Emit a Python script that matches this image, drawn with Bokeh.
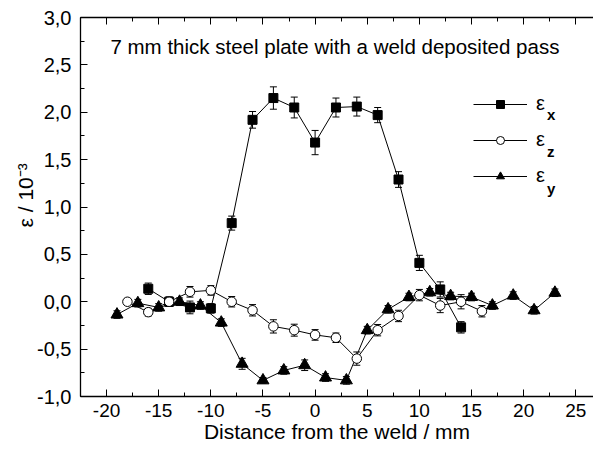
import math
from bokeh.plotting import figure
from bokeh.models import (Range1d, LinearAxis, SingleIntervalTicker, CustomJSTickFormatter,
                          ColumnDataSource, Whisker, TeeHead, Label, Legend, LegendItem)
from bokeh.embed import file_html
from bokeh.resources import INLINE

# ---- data ----
ex_pos = [-16, -14, -12, -10, -8, -6, -4, -2, 0, 2, 4, 6, 8, 10, 12, 14]
ex_val = [0.137, 0.0, -0.06, -0.07, 0.83, 1.92, 2.15, 2.05, 1.68, 2.05, 2.06, 1.97, 1.29, 0.41, 0.13, -0.27]
ex_err = [0.06, 0.05, 0.067, 0.05, 0.074, 0.088, 0.118, 0.11, 0.128, 0.10, 0.10, 0.08, 0.083, 0.08, 0.08, 0.06]

ez_pos = [-18, -16, -14, -12, -10, -8, -6, -4, -2, 0, 2, 4, 6, 8, 10, 12, 14, 16]
ez_val = [0.0, -0.11, 0.0, 0.105, 0.12, 0.0, -0.09, -0.26, -0.30, -0.35, -0.38, -0.60, -0.30, -0.15, 0.07, -0.04, 0.0, -0.10]
ez_err = [0.03, 0.04, 0.05, 0.056, 0.05, 0.055, 0.06, 0.07, 0.063, 0.056, 0.05, 0.07, 0.06, 0.06, 0.06, 0.075, 0.075, 0.06]

ey_pos = [-19, -17, -15, -13, -11, -9, -7, -5, -3, -1, 1, 3, 5, 7, 9, 11, 13, 15, 17, 19, 21, 23]
ey_val = [-0.135, -0.015, -0.06, 0.0, -0.04, -0.22, -0.655, -0.83, -0.725, -0.67, -0.80, -0.83,
          -0.30, -0.08, 0.05, 0.10, 0.06, 0.05, -0.04, 0.065, -0.09, 0.095]
ey_err = [0.04, 0.04, 0.04, 0.04, 0.04, 0.04, 0.058, 0.03, 0.04, 0.056, 0.04, 0.04,
          0.04, 0.04, 0.04, 0.04, 0.04, 0.04, 0.04, 0.04, 0.04, 0.04]

title_text = "7 mm thick steel plate with a weld deposited pass"
x_label = "Distance from the weld / mm"
y_label = "\u00a0\u00a0\u00a0\u00a0ε / 10⁻³"
FONT = "Liberation Sans"

p = figure(width=593, height=449, output_backend="svg", toolbar_location=None,
           x_range=Range1d(-22.5, 26.7), y_range=Range1d(-1.0, 3.0),
           min_border_left=80, min_border_right=0, min_border_top=17, min_border_bottom=53,
           x_axis_location=None, y_axis_location=None)
p.outline_line_color = None
p.xgrid.visible = False
p.ygrid.visible = False
p.background_fill_color = "white"
p.border_fill_color = "white"

def style_axis(ax, interval):
    ax.ticker = SingleIntervalTicker(interval=interval, num_minor_ticks=2)
    ax.major_tick_in = 7
    ax.major_tick_out = 0
    ax.minor_tick_in = 4
    ax.minor_tick_out = 0
    ax.axis_line_color = "black"
    ax.axis_line_width = 1.3
    ax.major_tick_line_color = "black"
    ax.minor_tick_line_color = "black"
    ax.major_label_text_font = FONT
    ax.major_label_text_color = "black"
    ax.axis_label_text_font = FONT
    ax.axis_label_text_font_style = "normal"
    ax.axis_label_text_color = "black"

xax = LinearAxis(axis_label=x_label)
style_axis(xax, 5)
xax.major_label_text_font_size = "19px"
xax.major_label_standoff = 7
xax.axis_label_text_font_size = "21px"
xax.axis_label_standoff = 0
xax.formatter = CustomJSTickFormatter(code="return tick.toFixed(0);")
p.add_layout(xax, "below")

top = LinearAxis()
style_axis(top, 5)
top.major_label_standoff = 0
top.formatter = CustomJSTickFormatter(code="return '';")
p.add_layout(top, "above")

yax = LinearAxis(axis_label=y_label)
style_axis(yax, 0.5)
yax.major_label_text_font_size = "20px"
yax.major_label_standoff = 9
yax.axis_label_text_font_size = "21px"
yax.axis_label_standoff = -3
yax.formatter = CustomJSTickFormatter(code="return tick.toFixed(1).replace('.', ',');")
p.add_layout(yax, "left")

def series(xs, ys, es, marker, size, fill):
    src = ColumnDataSource(dict(x=xs, y=ys, lo=[a - b for a, b in zip(ys, es)],
                                hi=[a + b for a, b in zip(ys, es)]))
    w = Whisker(source=src, base="x", lower="lo", upper="hi", line_color="black", line_width=1,
                upper_head=TeeHead(size=7, line_color="black", line_width=1),
                lower_head=TeeHead(size=7, line_color="black", line_width=1))
    p.add_layout(w)
    ln = p.line("x", "y", source=src, line_color="black", line_width=1)
    sc = p.scatter("x", "y", source=src, marker=marker, size=size, fill_color=fill,
                   line_color="black", line_width=1)
    return ln, sc

lx, sx = series(ex_pos, ex_val, ex_err, "square", 9, "black")
ly, sy = series(ey_pos, ey_val, ey_err, "triangle", 12, "black")
lz, sz = series(ez_pos, ez_val, ez_err, "circle", 9.5, "white")

leg = Legend(items=[LegendItem(label="ε", renderers=[lx, sx]),
                    LegendItem(label="ε", renderers=[lz, sz]),
                    LegendItem(label="ε", renderers=[ly, sy])],
             location=(393, 209), orientation="vertical",
             glyph_width=54, glyph_height=20, label_height=20, spacing=13,
             label_standoff=9, padding=0, margin=0,
             border_line_color=None, background_fill_alpha=0,
             label_text_font=FONT, label_text_font_size="20px", label_text_color="black")
p.add_layout(leg)

subs = ["x", "z", "y"]
sub_y = [1.98, 1.585, 1.19]
for s, yy in zip(subs, sub_y):
    p.add_layout(Label(x=22.25, y=yy, text=s, text_font=FONT, text_font_size="15px",
                       text_font_style="bold", text_baseline="alphabetic", text_align="left",
                       text_color="black"))

p.add_layout(Label(x=1.9, y=2.69, text=title_text, text_font=FONT, text_font_size="20.5px",
                   text_align="center", text_baseline="middle", text_color="black"))

open("out.html", "w").write(file_html(p, INLINE))
